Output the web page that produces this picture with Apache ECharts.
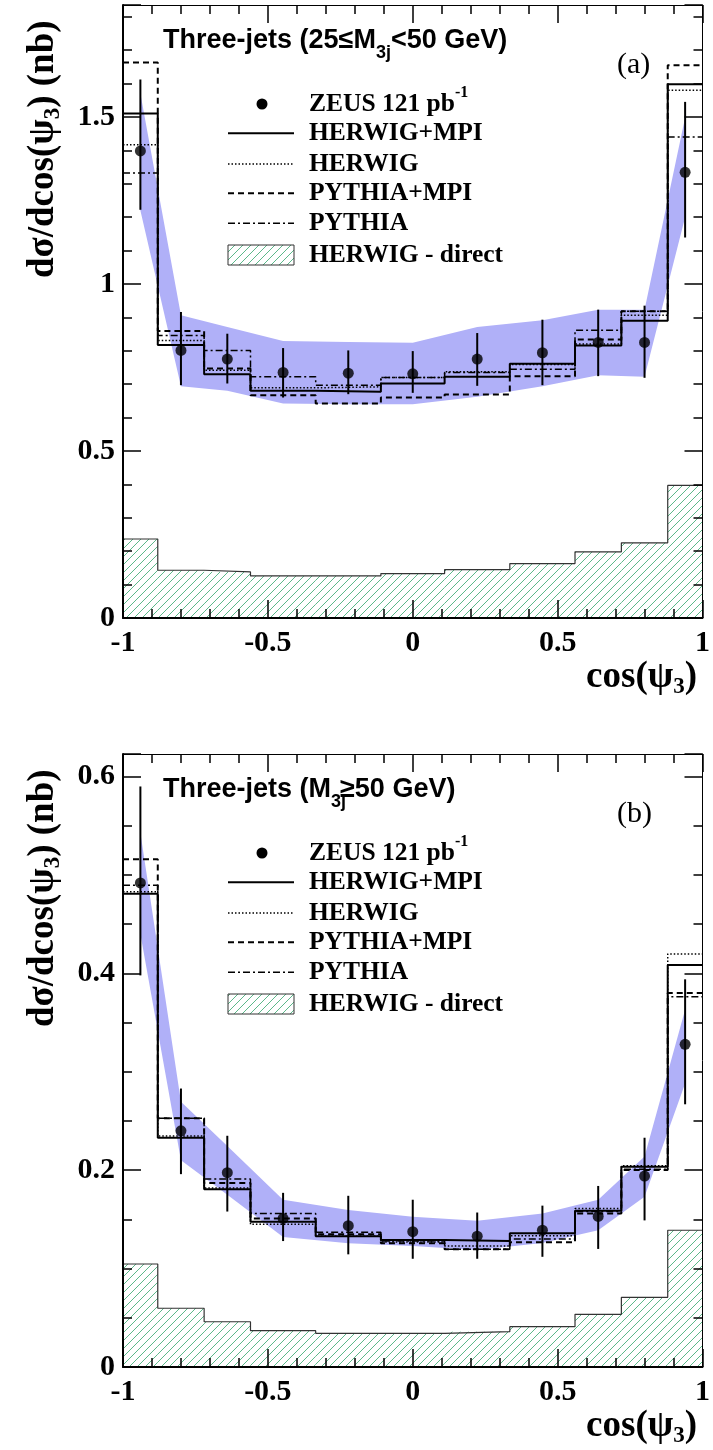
<!DOCTYPE html>
<html>
<head>
<meta charset="utf-8">
<script src="https://cdn.jsdelivr.net/npm/echarts@6/dist/echarts.min.js"></script>
<style>
  html, body { margin: 0; padding: 0; background: #fff; }
  #chart { width: 713px; height: 1450px; }
</style>
</head>
<body>
<div id="chart"></div>
<script>
// Bin edges and bin centres of cos(psi_3)
const binEdges = [-1, -0.88, -0.72, -0.56, -0.335, -0.11, 0.11, 0.335, 0.56, 0.72, 0.88, 1];
const binCentres = [-0.94, -0.80, -0.64, -0.4475, -0.2225, 0, 0.2225, 0.4475, 0.64, 0.80, 0.94];

// Panel (a): 25 <= M3j < 50 GeV
const zeusA       = [1.398, 0.801, 0.775, 0.735, 0.733, 0.731, 0.775, 0.794, 0.825, 0.825, 1.334];
const zeusLoA     = [1.222, 0.697, 0.702, 0.660, 0.670, 0.674, 0.695, 0.697, 0.724, 0.719, 1.139];
const zeusHiA     = [1.612, 0.916, 0.851, 0.808, 0.801, 0.799, 0.853, 0.893, 0.923, 0.935, 1.545];
const bandLoA     = [1.220, 0.694, 0.680, 0.642, 0.640, 0.640, 0.662, 0.694, 0.727, 0.722, 1.200];
const bandHiA     = [1.570, 0.906, 0.871, 0.829, 0.826, 0.824, 0.871, 0.891, 0.923, 0.923, 1.498];
const herwigMpiA  = [1.510, 0.817, 0.730, 0.680, 0.677, 0.702, 0.722, 0.761, 0.816, 0.890, 1.598];
const herwigA     = [1.417, 0.831, 0.742, 0.689, 0.692, 0.720, 0.737, 0.759, 0.820, 0.906, 1.580];
const pythiaMpiA  = [1.663, 0.859, 0.747, 0.667, 0.642, 0.660, 0.669, 0.724, 0.834, 0.918, 1.655];
const pythiaA     = [1.332, 0.846, 0.801, 0.722, 0.697, 0.720, 0.735, 0.745, 0.861, 0.918, 1.440];
const herwigDirA  = [0.2365, 0.143, 0.138, 0.126, 0.126, 0.133, 0.145, 0.163, 0.198, 0.225, 0.397];

// Panel (b): M3j >= 50 GeV
const zeusB       = [0.492, 0.240, 0.1975, 0.151, 0.1436, 0.1375, 0.133, 0.139, 0.153, 0.194, 0.328];
const zeusLoB     = [0.398, 0.196, 0.158, 0.128, 0.1145, 0.110, 0.110, 0.112, 0.120, 0.149, 0.267];
const zeusHiB     = [0.590, 0.283, 0.235, 0.177, 0.174, 0.170, 0.157, 0.164, 0.184, 0.233, 0.394];
const bandLoB     = [0.440, 0.210, 0.175, 0.132, 0.1257, 0.123, 0.119, 0.126, 0.139, 0.173, 0.288];
const bandHiB     = [0.543, 0.2697, 0.2245, 0.170, 0.1596, 0.1528, 0.1487, 0.156, 0.170, 0.214, 0.363];
const herwigMpiB  = [0.481, 0.233, 0.1806, 0.1477, 0.133, 0.129, 0.128, 0.136, 0.1589, 0.2036, 0.4086];
const herwigB     = [0.483, 0.2348, 0.182, 0.145, 0.133, 0.127, 0.123, 0.1335, 0.161, 0.2046, 0.4198];
const pythiaMpiB  = [0.516, 0.2527, 0.187, 0.151, 0.135, 0.1257, 0.1196, 0.1267, 0.156, 0.2002, 0.380];
const pythiaB     = [0.4895, 0.2527, 0.191, 0.156, 0.137, 0.128, 0.1196, 0.130, 0.158, 0.201, 0.3764];
const herwigDirB  = [0.1047, 0.0597, 0.046, 0.0369, 0.0342, 0.0342, 0.0359, 0.041, 0.0535, 0.0708, 0.139];

// Axis ranges and tick steps
const xMajor = 0.5, xMinor = 0.1;
const yMaxA = 1.835, yMajorA = 0.5, yMinorA = 0.1;
const yMaxB = 0.623, yMajorB = 0.2, yMinorB = 0.05;

const SERIF = '"Liberation Serif", "Times New Roman", serif';
const SANS = '"Liberation Sans", Arial, sans-serif';
const BAND = '#b0b0f8';
const HATCH_LINE = '#5cb88a';
const HATCH_STEP = 8;

const styles = {
  herwigMpi: { width: 2, type: 'solid' },
  herwig:    { width: 1.5, type: [1.5, 2] },
  pythiaMpi: { width: 2, type: [6, 4] },
  pythia:    { width: 1.5, type: [7, 3, 2, 3] }
};

// "/" hatch lines (x + y = k) clipped to a pixel rectangle
function hatchLines(x0, x1, yt, yb) {
  const out = [];
  const kStart = Math.ceil((x0 + yt) / HATCH_STEP) * HATCH_STEP;
  for (let k = kStart; k <= x1 + yb; k += HATCH_STEP) {
    const xa = Math.max(x0, k - yb), xb = Math.min(x1, k - yt);
    if (xb - xa < 0.5) continue;
    out.push({ type: 'line', silent: true,
      shape: { x1: xa, y1: k - xa, x2: xb, y2: k - xb },
      style: { stroke: HATCH_LINE, lineWidth: 1 } });
  }
  return out;
}

function stepPoints(vals) {
  const pts = [];
  vals.forEach((v, i) => { pts.push([binEdges[i], v]); pts.push([binEdges[i + 1], v]); });
  return pts;
}

function panelSeries(p, xi, yi) {
  const s = [];
  // theory band
  s.push({
    type: 'custom', xAxisIndex: xi, yAxisIndex: yi, z: 1, silent: true,
    data: binCentres.map((x, i) => [x, p.bandLo[i], p.bandHi[i]]),
    encode: { x: 0, y: [1, 2] },
    renderItem: (params, api) => {
      if (params.dataIndex !== 0) return null;
      const up = p.bandHi.map((h, i) => api.coord([binCentres[i], h]));
      const lo = p.bandLo.map((l, i) => api.coord([binCentres[i], l])).reverse();
      return { type: 'polygon', shape: { points: up.concat(lo) }, style: { fill: BAND } };
    }
  });
  // HERWIG direct: hatched bins plus outline
  s.push({
    type: 'custom', xAxisIndex: xi, yAxisIndex: yi, z: 2, silent: true,
    data: p.direct.map((v, i) => [binEdges[i], binEdges[i + 1], v]),
    encode: { x: [0, 1], y: 2 },
    renderItem: (params, api) => {
      const a = api.coord([api.value(0), api.value(2)]);
      const b = api.coord([api.value(1), 0]);
      return { type: 'group', children: hatchLines(a[0], b[0], a[1], b[1]) };
    }
  });
  s.push({
    type: 'line', xAxisIndex: xi, yAxisIndex: yi, z: 2, silent: true,
    data: stepPoints(p.direct), showSymbol: false, symbol: 'none',
    lineStyle: { color: '#333', width: 1.2 }
  });
  [['herwigMpi', p.herwigMpi], ['herwig', p.herwig], ['pythiaMpi', p.pythiaMpi], ['pythia', p.pythia]]
    .forEach(([key, vals]) => {
      s.push({
        type: 'line', xAxisIndex: xi, yAxisIndex: yi, z: 3, silent: true,
        data: stepPoints(vals), showSymbol: false, symbol: 'none',
        lineStyle: { color: '#000', width: styles[key].width, type: styles[key].type }
      });
    });
  // ZEUS error bars and points
  s.push({
    type: 'custom', xAxisIndex: xi, yAxisIndex: yi, z: 4, silent: true,
    data: binCentres.map((x, i) => [x, p.lo[i], p.hi[i]]),
    encode: { x: 0, y: [1, 2] },
    renderItem: (params, api) => {
      const a = api.coord([api.value(0), api.value(1)]);
      const b = api.coord([api.value(0), api.value(2)]);
      return { type: 'line', shape: { x1: a[0], y1: a[1], x2: b[0], y2: b[1] },
               style: { stroke: '#000', lineWidth: 2 } };
    }
  });
  s.push({
    type: 'scatter', xAxisIndex: xi, yAxisIndex: yi, z: 5, silent: true,
    data: binCentres.map((x, i) => [x, p.zeus[i]]),
    symbol: 'circle', symbolSize: 11, itemStyle: { color: '#000' }
  });
  return s;
}

// fresh style objects for every axis
const tickLine = () => ({ color: '#000000', width: 1.5 });
const noLine = () => ({ show: false, onZero: false });
function tick(len) { return { show: true, inside: true, length: len, lineStyle: tickLine() }; }

// major ticks (with labels on bottom/left) and minor ticks on all four sides
function xAxes(gi) {
  const base = () => ({ gridIndex: gi, type: 'value', min: -1, max: 1, z: 10,
                        splitLine: { show: false } });
  return [
    Object.assign(base(), { position: 'bottom', interval: xMajor,
      axisLine: { show: true, onZero: false, lineStyle: { color: '#000', width: 2 } },
      axisTick: tick(18),
      axisLabel: { show: true, margin: 10, fontFamily: SERIF, fontWeight: 'bold', fontSize: 30, color: '#000' } }),
    Object.assign(base(), { position: 'bottom', interval: xMinor,
      axisLine: noLine(), axisTick: tick(9), axisLabel: { show: false } }),
    Object.assign(base(), { position: 'top', interval: xMajor,
      axisLine: { show: true, onZero: false, lineStyle: { color: '#000', width: 1 } },
      axisTick: tick(18), axisLabel: { show: false } }),
    Object.assign(base(), { position: 'top', interval: xMinor,
      axisLine: noLine(), axisTick: tick(9), axisLabel: { show: false } })
  ];
}
function yAxes(gi, ymax, major, minor) {
  const base = () => ({ gridIndex: gi, type: 'value', min: 0, max: ymax, z: 10,
                        splitLine: { show: false } });
  const fmt = v => {
    const k = v / major;
    return Math.abs(k - Math.round(k)) < 1e-6 ? String(parseFloat(v.toFixed(3))) : '';
  };
  return [
    Object.assign(base(), { position: 'left', interval: major,
      axisLine: { show: true, onZero: false, lineStyle: { color: '#000', width: 2 } },
      axisTick: tick(18),
      axisLabel: { show: true, margin: 8, formatter: fmt, fontFamily: SERIF, fontWeight: 'bold', fontSize: 30, color: '#000' } }),
    Object.assign(base(), { position: 'left', interval: minor,
      axisLine: noLine(), axisTick: tick(9), axisLabel: { show: false } }),
    Object.assign(base(), { position: 'right', interval: major,
      axisLine: { show: true, onZero: false, lineStyle: { color: '#000', width: 1 } },
      axisTick: tick(18), axisLabel: { show: false } }),
    Object.assign(base(), { position: 'right', interval: minor,
      axisLine: noLine(), axisTick: tick(9), axisLabel: { show: false } })
  ];
}

// text helpers: runs of text laid along a line, optionally rotated
const mctx = document.createElement('canvas').getContext('2d');
function textWidth(str, font) { mctx.font = font; return mctx.measureText(str).width; }
function runWidth(parts) { return parts.reduce((w, p) => w + textWidth(p.t, p.font) + (p.dx || 0), 0); }
function textRun(x, y, parts, rotation) {
  let cx = 0;
  const children = [];
  parts.forEach(p => {
    cx += (p.dx || 0);
    children.push({ type: 'text', x: cx, y: p.dy || 0,
      style: { text: p.t, font: p.font, fill: '#000', textAlign: 'left', align: 'left',
               textVerticalAlign: 'middle', verticalAlign: 'middle' } });
    cx += textWidth(p.t, p.font);
  });
  return { type: 'group', x: x, y: y, rotation: rotation || 0, children: children };
}

const fAxis = 'bold 37px ' + SERIF;
const fAxisSub = 'bold 23px ' + SERIF;
const fLeg = 'bold 25.5px ' + SERIF;
const fLegSup = 'bold 16px ' + SERIF;
const fTitle = 'bold 27px ' + SANS;
const fTitleSub = 'bold 18px ' + SANS;
const fTag = '30px ' + SERIF;

function panelGraphics(oy, titleParts, tag) {
  const g = [];
  // y-axis title
  g.push(textRun(43, 278 + oy, [
    { t: 'dσ/dcos(ψ', font: fAxis },
    { t: '3', font: fAxisSub, dy: 10 },
    { t: ') (nb)', font: fAxis }
  ], Math.PI / 2));
  // x-axis title, right aligned
  const xt = [
    { t: 'cos(ψ', font: fAxis },
    { t: '3', font: fAxisSub, dy: 10 },
    { t: ')', font: fAxis }
  ];
  g.push(textRun(697 - runWidth(xt), 677 + oy, xt));
  // panel title and tag
  g.push(textRun(163, 41 + oy, titleParts));
  g.push(textRun(617, 65 + oy, [{ t: tag, font: fTag }]));
  // legend
  const lx0 = 228, lx1 = 294, tx = 309;
  g.push({ type: 'circle', shape: { cx: 262, cy: 104 + oy, r: 5.5 }, style: { fill: '#000' } });
  g.push(textRun(tx, 104 + oy, [
    { t: 'ZEUS 121 pb', font: fLeg },
    { t: '-1', font: fLegSup, dy: -11 }
  ]));
  const rows = [
    ['herwigMpi', 'HERWIG+MPI', 133.3],
    ['herwig', 'HERWIG', 164],
    ['pythiaMpi', 'PYTHIA+MPI', 193.3],
    ['pythia', 'PYTHIA', 223.3]
  ];
  rows.forEach(([key, label, y]) => {
    g.push({ type: 'line', shape: { x1: lx0, y1: y + oy, x2: lx1, y2: y + oy },
             style: { stroke: '#000', lineWidth: styles[key].width,
                      lineDash: styles[key].type === 'solid' ? null : styles[key].type } });
    g.push(textRun(tx, y + oy, [{ t: label, font: fLeg }]));
  });
  g.push({ type: 'group', children: hatchLines(lx0, lx1, 245 + oy, 265 + oy) });
  g.push({ type: 'rect', shape: { x: lx0, y: 245 + oy, width: lx1 - lx0, height: 20 },
           style: { fill: null, stroke: '#333', lineWidth: 1 } });
  g.push(textRun(tx, 255 + oy, [{ t: 'HERWIG - direct', font: fLeg }]));
  return g;
}

const panelA = { zeus: zeusA, lo: zeusLoA, hi: zeusHiA, bandLo: bandLoA, bandHi: bandHiA,
  herwigMpi: herwigMpiA, herwig: herwigA, pythiaMpi: pythiaMpiA, pythia: pythiaA, direct: herwigDirA };
const panelB = { zeus: zeusB, lo: zeusLoB, hi: zeusHiB, bandLo: bandLoB, bandHi: bandHiB,
  herwigMpi: herwigMpiB, herwig: herwigB, pythiaMpi: pythiaMpiB, pythia: pythiaB, direct: herwigDirB };

const OFFSET_B = 749;

const option = {
  animation: false,
  backgroundColor: '#fff',
  grid: [
    { left: 123, right: 7, top: 5, height: 613, containLabel: false },
    { left: 123, right: 7, top: 5 + OFFSET_B, height: 613, containLabel: false }
  ],
  xAxis: xAxes(0).concat(xAxes(1)),
  yAxis: yAxes(0, yMaxA, yMajorA, yMinorA).concat(yAxes(1, yMaxB, yMajorB, yMinorB)),
  series: panelSeries(panelA, 0, 0).concat(panelSeries(panelB, 4, 4)),
  graphic: panelGraphics(0, [
      { t: 'Three-jets (25≤M', font: fTitle },
      { t: '3j', font: fTitleSub, dy: 12 },
      { t: '<50 GeV)', font: fTitle }
    ], '(a)').concat(panelGraphics(OFFSET_B, [
      { t: 'Three-jets (M', font: fTitle },
      { t: '3j', font: fTitleSub, dy: 12 },
      { t: '≥50 GeV)', font: fTitle, dx: -6 }
    ], '(b)'))
};

const chart = echarts.init(document.getElementById('chart'), null, { renderer: 'canvas' });
chart.setOption(option);
</script>
</body>
</html>
